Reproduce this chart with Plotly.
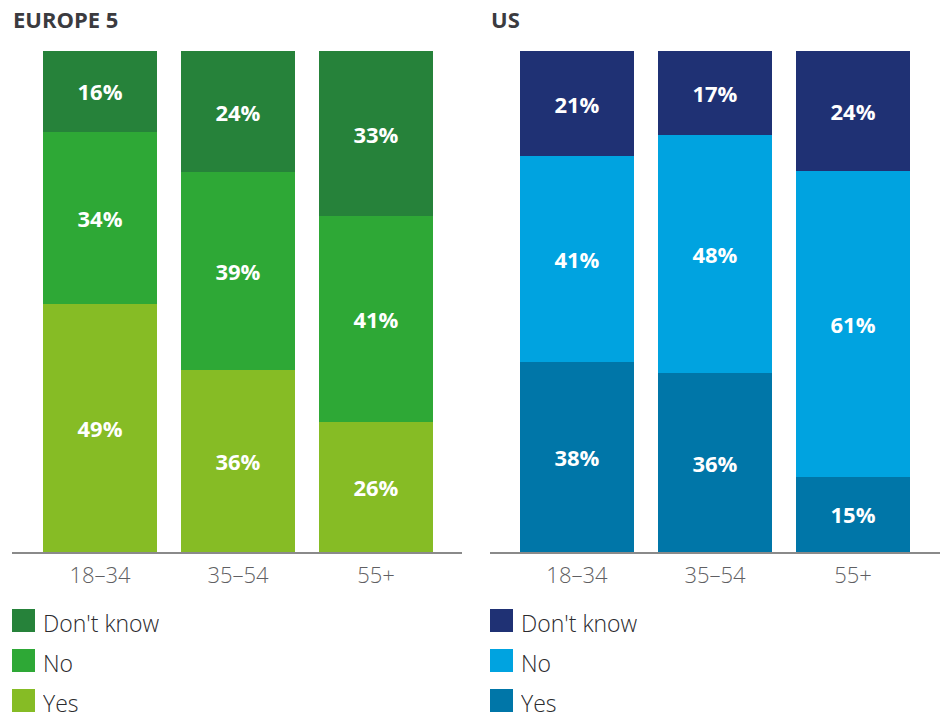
import plotly.graph_objects as go

# ---------------- data ----------------
age_groups = ["18–34", "35–54", "55+"]
series_names = ["Yes", "No", "Don't know"]

europe_yes = [49, 36, 26]
europe_no = [34, 39, 41]
europe_dk = [16, 24, 33]

us_yes = [38, 36, 15]
us_no = [41, 48, 61]
us_dk = [21, 17, 24]

panel_titles = ["EUROPE 5", "US"]
europe_colors = ["#86BC25", "#2EA836", "#26823A"]   # Yes, No, Don't know
us_colors = ["#0076A8", "#00A3E0", "#1F3174"]

# ---------------- layout helpers ----------------
W, H = 940, 718
FONT = "Open Sans"


def fx(px):
    return px / W


def fy(py):
    return 1 - py / H


fig = go.Figure()

panels = [
    ([europe_yes, europe_no, europe_dk], europe_colors, "x", "y"),
    ([us_yes, us_no, us_dk], us_colors, "x2", "y2"),
]

for series, colors, xa, ya in panels:
    for name, vals, col in zip(series_names, series, colors):
        fig.add_trace(go.Bar(
            x=age_groups, y=vals, name=name,
            marker=dict(color=col, line=dict(width=0)),
            text=[f"{v}%" for v in vals],
            textposition="inside", insidetextanchor="middle",
            textangle=0,
            textfont=dict(family=FONT, size=22, color="white", weight="bold"),
            xaxis=xa, yaxis=ya, showlegend=False, hoverinfo="skip",
        ))

axis_common = dict(
    showgrid=False, zeroline=False, showline=True, linecolor="#8a8a8a",
    linewidth=1.5, ticks="", type="category", ticklabelstandoff=3,
    tickfont=dict(family=FONT, size=22, color="#5f5f63", weight=300),
    fixedrange=True,
)
yaxis_common = dict(visible=False, range=[0, 100], domain=[fy(552), fy(51)],
                    fixedrange=True)

fig.update_layout(
    width=W, height=H,
    margin=dict(l=0, r=0, t=0, b=0),
    paper_bgcolor="white", plot_bgcolor="white",
    barmode="stack", barnorm="percent", bargap=0.174,
    xaxis=dict(domain=[fx(12), fx(462)], range=[-0.638, 2.623], anchor="y",
               **axis_common),
    yaxis=dict(anchor="x", **yaxis_common),
    xaxis2=dict(domain=[fx(490), 1.0], range=[-0.630, 2.630], anchor="y2",
                **axis_common),
    yaxis2=dict(anchor="x2", **yaxis_common),
    showlegend=False,
)

# panel titles
for title, x0 in zip(panel_titles, [12, 490]):
    fig.add_annotation(
        text=title, x=fx(x0), y=fy(19), xref="paper", yref="paper",
        xanchor="left", yanchor="middle", showarrow=False, borderpad=0,
        font=dict(family=FONT, size=22, color="#3b3b3f", weight="bold"),
    )

# custom legends (large square swatches)
for colors, x0 in [(europe_colors, 12), (us_colors, 490)]:
    order = list(range(len(series_names)))[::-1]  # Don't know, No, Yes
    for row, idx in enumerate(order):
        top = 609 + 40 * row
        fig.add_shape(
            type="rect", xref="paper", yref="paper",
            x0=fx(x0), x1=fx(x0 + 23), y0=fy(top + 23), y1=fy(top),
            fillcolor=colors[idx], line=dict(width=0),
        )
        fig.add_annotation(
            text=series_names[idx], x=fx(x0 + 30), y=fy(top + 14),
            xref="paper", yref="paper", xanchor="left", yanchor="middle",
            showarrow=False, borderpad=0, height=26, valign="middle",
            font=dict(family=FONT, size=23, color="#2b2b2e", weight=300),
        )

fig.write_html(
    "out.html",
    config={"displayModeBar": False},
    post_script="document.body.style.margin='0px';",
)
